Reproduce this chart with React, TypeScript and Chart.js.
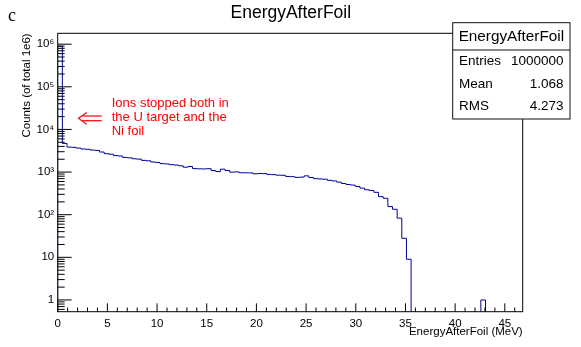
import React, { useEffect, useRef } from "react";
import { Chart, registerables } from "chart.js";

Chart.register(...registerables);

// ---- data ----
const X_MIN = 0;
const X_MAX = 46.8;
const BIN_WIDTH = 0.468;
const Y_MIN = 0.53;
const Y_MAX = 1.8e6;

const counts = [
  900000, 4700, 3850, 3800, 3650, 3480, 3420, 3280, 3220, 2950,
  2700, 2620, 2430, 2380, 2200, 2160, 2050, 2010, 1880, 1840,
  1720, 1680, 1580, 1550, 1490, 1460, 1400, 1300, 1350, 1205,
  1190, 1185, 1200, 1085, 1025, 1170, 1085, 995, 1010, 965,
  960, 955, 910, 925, 920, 880, 870, 845, 840, 790,
  780, 750, 760, 815, 745, 700, 690, 680, 640, 620,
  580, 540, 510, 495, 460, 420, 385, 370, 335, 265,
  243, 155, 134, 83, 28, 9, 0, 0, 0, 0,
  0, 0, 0, 0, 0, 0, 0, 0, 0, 0,
  0, 1, 0, 0, 0, 0, 0, 0, 0, 0,
];

const xTickValues = [0, 5, 10, 15, 20, 25, 30, 35, 40, 45];
const yTickValues = [1, 10, 100, 1000, 10000, 100000, 1000000];
const yTickLabels = ["1", "10", "10\u00b2", "10\u00b3", "10\u2074", "10\u2075", "10\u2076"];

const titleText = "EnergyAfterFoil";
const xTitle = "EnergyAfterFoil (MeV)";
const yTitle = "Counts (of total 1e6)";
const panelLabel = "c";
const statsTitle = "EnergyAfterFoil";
const statsNames = ["Entries", "Mean", "RMS"];
const statsValues = ["1000000", "1.068", "4.273"];
const noteLines = ["Ions stopped both in", "the U target and the", "Ni foil"];

const SANS = "'Liberation Sans', Arial, Helvetica, sans-serif";
const LINE_COLOR = "#000099";

function buildSteps() {
  const floor = 0.05; // below axis minimum: empty bins drop out of view
  const pts: { x: number; y: number }[] = [];
  pts.push({ x: X_MIN, y: floor });
  counts.forEach((c, i) => {
    pts.push({ x: X_MIN + i * BIN_WIDTH, y: c > 0 ? c : floor });
  });
  const last = counts[counts.length - 1];
  pts.push({ x: X_MIN + counts.length * BIN_WIDTH, y: last > 0 ? last : floor });
  pts.push({ x: X_MIN + counts.length * BIN_WIDTH, y: floor });
  return pts;
}

const decorPlugin = {
  id: "rootDecor",
  afterDraw(chart: any) {
    const { ctx, chartArea: a } = chart;
    const xs = chart.scales.x;
    const ys = chart.scales.y;
    const line = (x1: number, y1: number, x2: number, y2: number) => {
      ctx.beginPath();
      ctx.moveTo(x1, y1);
      ctx.lineTo(x2, y2);
      ctx.stroke();
    };
    ctx.save();
    // frame
    ctx.strokeStyle = "#000";
    ctx.lineWidth = 1;
    ctx.strokeRect(a.left, a.top, a.right - a.left, a.bottom - a.top);

    // x ticks (inward)
    const plotH = a.bottom - a.top;
    const plotW = a.right - a.left;
    for (let v = 0; v <= Math.floor(X_MAX); v++) {
      const px = xs.getPixelForValue(v);
      const len = v % 5 === 0 ? 0.03 * plotH : 0.015 * plotH;
      line(px, a.bottom, px, a.bottom - len);
    }
    // y ticks (inward), log
    for (let d = -1; d <= 6; d++) {
      for (let m = 1; m <= 9; m++) {
        const v = m * Math.pow(10, d);
        if (v < Y_MIN || v > Y_MAX) continue;
        const py = ys.getPixelForValue(v);
        const len = m === 1 ? 0.03 * plotW : 0.015 * plotW;
        line(a.left, py, a.left + len, py);
      }
    }

    // axis titles
    ctx.fillStyle = "#000";
    ctx.font = `11.5px ${SANS}`;
    ctx.textAlign = "right";
    ctx.textBaseline = "alphabetic";
    ctx.fillText(xTitle, a.right, 334.5);
    ctx.save();
    ctx.translate(30, a.top);
    ctx.rotate(-Math.PI / 2);
    ctx.textAlign = "right";
    ctx.fillText(yTitle, 0, 0);
    ctx.restore();

    // main title
    ctx.font = `17.5px ${SANS}`;
    ctx.textAlign = "center";
    ctx.fillText(titleText, 290.8, 18);

    // panel label
    ctx.font = `18px 'Liberation Serif', 'Times New Roman', serif`;
    ctx.textAlign = "left";
    ctx.fillText(panelLabel, 8, 20.5);

    // stats box
    const bx = 452.7, by = 22.7, bw = 117.3, bh = 96.3;
    ctx.fillStyle = "#fff";
    ctx.fillRect(bx, by, bw, bh);
    ctx.strokeStyle = "#111";
    ctx.strokeRect(bx, by, bw, bh);
    line(bx, 50, bx + bw, 50);
    ctx.fillStyle = "#000";
    ctx.textBaseline = "middle";
    ctx.font = `15.3px ${SANS}`;
    ctx.textAlign = "center";
    ctx.fillText(statsTitle, bx + bw / 2, 36.5);
    ctx.font = `13.5px ${SANS}`;
    const rowY = [61, 84.3, 106.7];
    statsNames.forEach((n, i) => {
      ctx.textAlign = "left";
      ctx.fillText(n, 459, rowY[i]);
      ctx.textAlign = "right";
      ctx.fillText(statsValues[i], 563.5, rowY[i]);
    });

    // annotation
    ctx.fillStyle = "#ff0000";
    ctx.strokeStyle = "#ff0000";
    ctx.textBaseline = "alphabetic";
    ctx.textAlign = "left";
    ctx.font = `13px ${SANS}`;
    const noteY = [106.7, 121, 135.3];
    noteLines.forEach((t, i) => ctx.fillText(t, 111.7, noteY[i]));
    ctx.lineWidth = 1.2;
    line(82.5, 116, 101.7, 116);
    line(82.5, 120.7, 101.7, 120.7);
    ctx.beginPath();
    ctx.moveTo(86.7, 112.5);
    ctx.lineTo(78.5, 118.3);
    ctx.lineTo(86.7, 124.2);
    ctx.stroke();

    ctx.restore();
  },
};

export default function App() {
  const ref = useRef<HTMLCanvasElement | null>(null);
  useEffect(() => {
    if (!ref.current) return;
    const chart = new Chart(ref.current, {
      type: "line",
      data: {
        datasets: [
          {
            data: buildSteps(),
            borderColor: LINE_COLOR,
            borderWidth: 1,
            stepped: "before",
            pointRadius: 0,
            fill: false,
            tension: 0,
          },
        ],
      },
      options: {
        animation: false,
        responsive: false,
        devicePixelRatio: 1,
        events: [],
        layout: { padding: { left: 0, top: 33.3, right: 58.3, bottom: 0 } },
        plugins: {
          legend: { display: false },
          title: { display: false },
          tooltip: { enabled: false },
        },
        scales: {
          x: {
            type: "linear",
            min: X_MIN,
            max: X_MAX,
            grid: { display: false, drawTicks: false },
            border: { display: false },
            afterFit: (s: any) => {
              s.height = 35.3;
            },
            afterBuildTicks: (s: any) => {
              s.ticks = xTickValues.map((v) => ({ value: v }));
            },
            ticks: {
              autoSkip: false,
              maxRotation: 0,
              padding: 5,
              color: "#000",
              font: { family: SANS, size: 11.5 },
              callback: (v: any) => String(v),
            },
          },
          y: {
            type: "logarithmic",
            min: Y_MIN,
            max: Y_MAX,
            grid: { display: false, drawTicks: false },
            border: { display: false },
            afterFit: (s: any) => {
              s.width = 57.7;
            },
            afterBuildTicks: (s: any) => {
              s.ticks = yTickValues.map((v) => ({ value: v }));
            },
            ticks: {
              autoSkip: false,
              padding: 3.5,
              color: "#000",
              font: { family: SANS, size: 11.5 },
              callback: (v: any) => {
                const i = yTickValues.indexOf(Number(v));
                return i >= 0 ? yTickLabels[i] : "";
              },
            },
          },
        },
      },
      plugins: [decorPlugin],
    });
    return () => chart.destroy();
  }, []);
  return (
    <div style={{ position: "absolute", left: 0, top: 0, width: 581, height: 347, background: "#fff" }}>
      <canvas ref={ref} width={581} height={347} style={{ display: "block" }} />
    </div>
  );
}
